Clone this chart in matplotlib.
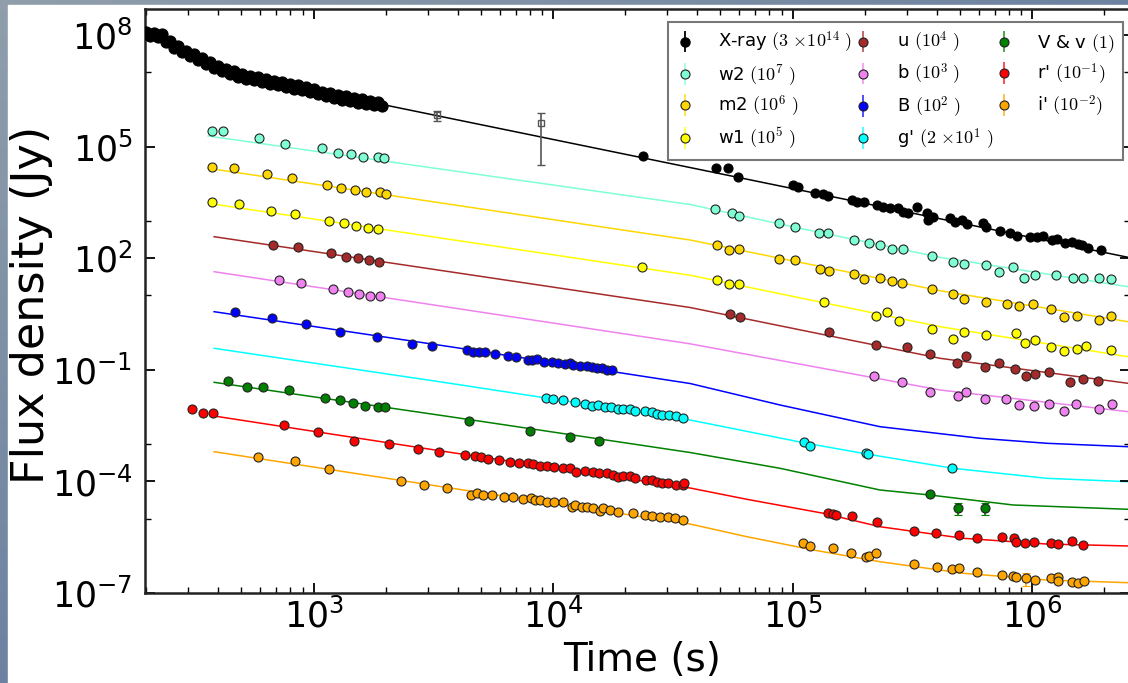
import numpy as np
import matplotlib
matplotlib.use('Agg')
import matplotlib.pyplot as plt
from matplotlib.colors import LinearSegmentedColormap, to_rgba
from matplotlib.patches import Rectangle
from matplotlib.container import ErrorbarContainer
from matplotlib.legend_handler import HandlerErrorbar
from matplotlib.ticker import FixedLocator, FuncFormatter, LogLocator, NullFormatter

plt.rcParams['mathtext.fontset'] = 'cm'

# all values are log10, fluxes already multiplied by the legend factor

# X-ray, dense early light curve then sparse late points
xray_lt = [2.301, 2.317, 2.334, 2.351, 2.368, 2.384, 2.401, 2.418, 2.434, 2.451,
           2.468, 2.484, 2.501, 2.518, 2.534, 2.551, 2.568, 2.585, 2.601, 2.618,
           2.635, 2.651, 2.668, 2.685, 2.701, 2.718, 2.735, 2.751, 2.768, 2.785,
           2.802, 2.818, 2.835, 2.852, 2.868, 2.885, 2.902, 2.918, 2.935, 2.952,
           2.969, 2.985, 3.002, 3.019, 3.035, 3.052, 3.069, 3.085, 3.102, 3.119,
           3.136, 3.152, 3.169, 3.186, 3.202, 3.219, 3.236, 3.252, 3.269, 3.286,
           4.375, 4.681, 4.732, 4.774, 5.003, 5.024, 5.094, 5.126, 5.149, 5.247,
           5.268, 5.299, 5.352, 5.379, 5.407, 5.442, 5.463, 5.484, 5.519, 5.561,
           5.567, 5.588, 5.658, 5.679, 5.707, 5.728, 5.797, 5.808, 5.866, 5.908,
           5.936, 5.992, 6.020, 6.047, 6.082, 6.103, 6.138, 6.166, 6.193, 6.208,
           6.235, 6.288]
xray_lf = [8.075, 7.963, 8.065, 7.949, 8.014, 7.823, 7.847, 7.664, 7.704, 7.535,
           7.581, 7.430, 7.484, 7.323, 7.379, 7.215, 7.274, 7.116, 7.175, 7.019,
           7.086, 6.944, 7.019, 6.877, 6.952, 6.825, 6.911, 6.782, 6.866, 6.734,
           6.817, 6.688, 6.772, 6.643, 6.726, 6.597, 6.686, 6.557, 6.643, 6.514,
           6.602, 6.460, 6.538, 6.401, 6.481, 6.352, 6.438, 6.309, 6.393, 6.264,
           6.350, 6.221, 6.307, 6.180, 6.269, 6.143, 6.231, 6.108, 6.202, 6.081,
           4.747, 4.417, 4.417, 4.191, 3.968, 3.906, 3.761, 3.726, 3.672, 3.565,
           3.519, 3.519, 3.438, 3.385, 3.342, 3.342, 3.250, 3.223, 3.368, 3.207,
           3.027, 3.116, 3.072, 2.981, 3.027, 2.919, 2.954, 2.847, 2.739, 2.685,
           2.597, 2.562, 2.578, 2.597, 2.489, 2.508, 2.401, 2.444, 2.382, 2.355,
           2.266, 2.220]
xray_mt = [3.2985, 6.401]
xray_mf = [6.118, 2.024]
# two open squares with errors (linear, Jy scaled)
sq_lt = [3.514, 3.950]
sq_lf = [5.850, 5.626]
sq_err = [2.2e5, 3.9e5]

w2_lt = [2.575, 2.621, 2.771, 2.882, 3.036, 3.102, 3.155, 3.208, 3.268, 3.294,
         4.676, 4.746, 4.777, 4.944, 5.010, 5.112, 5.150, 5.257, 5.319, 5.365,
         5.415, 5.460, 5.581, 5.671, 5.717, 5.807, 5.864, 5.922, 5.968, 6.013,
         6.100, 6.171, 6.212, 6.281, 6.331]
w2_lf = [5.420, 5.420, 5.239, 5.070, 4.954, 4.836, 4.801, 4.729, 4.712, 4.686,
         3.315, 3.207, 3.143, 2.954, 2.831, 2.686, 2.670, 2.489, 2.401, 2.355,
         2.239, 2.239, 2.059, 1.890, 1.836, 1.817, 1.637, 1.756, 1.460, 1.549,
         1.541, 1.460, 1.460, 1.460, 1.449]
w2_mt = [2.560, 4.572, 5.031, 5.616, 6.401]
w2_mf = [5.285, 3.444, 2.804, 2.024, 1.234]

m2_lt = [2.575, 2.669, 2.805, 2.910, 3.056, 3.116, 3.172, 3.220, 3.278, 3.303,
         4.684, 4.735, 4.778, 4.945, 5.012, 5.115, 5.152, 5.257, 5.299, 5.365,
         5.415, 5.459, 5.581, 5.671, 5.717, 5.807, 5.894, 5.946, 6.003, 6.079,
         6.132, 6.188, 6.281, 6.331]
m2_lf = [4.460, 4.417, 4.256, 4.148, 3.960, 3.895, 3.833, 3.780, 3.772, 3.726,
         2.355, 2.221, 2.239, 1.979, 1.952, 1.710, 1.664, 1.584, 1.433, 1.460,
         1.387, 1.342, 1.164, 1.038, 0.903, 0.815, 0.769, 0.715, 0.769, 0.626,
         0.428, 0.446, 0.339, 0.446]
m2_mt = [2.560, 4.572, 5.616, 6.401]
m2_mf = [4.417, 2.489, 1.126, 0.293]

w1_lt = [2.575, 2.689, 2.824, 2.922, 3.066, 3.127, 3.179, 3.226, 3.268,
         4.373, 4.685, 4.735, 4.778, 5.133, 5.347, 5.393, 5.443, 5.581, 5.671,
         5.717, 5.807, 5.932, 5.971, 6.013, 6.079, 6.132, 6.188, 6.224, 6.331]
w1_lf = [3.503, 3.457, 3.277, 3.180, 3.000, 2.954, 2.874, 2.804, 2.785,
         1.772, 1.422, 1.307, 1.302, 0.831, 0.446, 0.562, 0.320, 0.089, -0.180,
         0.024, -0.072, -0.019, -0.271, -0.199, -0.395, -0.495, -0.433, -0.352, -0.468]
w1_mt = [2.560, 4.572, 5.616, 6.401]
w1_mf = [3.476, 1.543, 0.159, -0.648]

u_lt = [2.832, 2.934, 3.073, 3.134, 3.185, 3.232, 3.274,
        4.739, 4.781, 5.152, 5.349, 5.476, 5.574, 5.688, 5.723, 5.804, 5.864,
        5.929, 5.974, 6.013, 6.071, 6.159, 6.212, 6.274]
u_lf = [2.355, 2.293, 2.132, 2.024, 1.997, 1.952, 1.890,
        0.500, 0.411, 0.008, -0.333, -0.400, -0.583, -0.825, -0.629, -0.917, -0.825,
        -0.986, -1.167, -1.113, -1.067, -1.341, -1.247, -1.314]
u_mt = [2.585, 4.572, 5.616, 6.401]
u_mf = [2.578, 0.675, -0.691, -1.363]

b_lt = [2.854, 2.948, 3.082, 3.142, 3.191, 3.237, 3.278,
        5.342, 5.456, 5.574, 5.692, 5.724, 5.802, 5.891, 5.946, 6.008, 6.070,
        6.134, 6.182, 6.281, 6.333]
b_lf = [1.414, 1.325, 1.172, 1.083, 1.030, 0.984, 0.984,
        -1.159, -1.341, -1.610, -1.704, -1.605, -1.790, -1.790, -1.946, -1.973, -1.927,
        -2.099, -1.919, -2.062, -1.927]
b_mt = [2.585, 4.572, 5.616, 6.401]
b_mf = [1.637, -0.301, -1.543, -2.126]

B_lt = [2.672, 2.828, 2.967, 3.112, 3.265, 3.410, 3.493, 3.640, 3.665, 3.691,
        3.717, 3.758, 3.811, 3.846, 3.897, 3.911, 3.932, 3.964, 3.995, 4.022,
        4.050, 4.071, 4.085, 4.113, 4.141, 4.162, 4.182, 4.203, 4.224, 4.245]
B_lf = [0.562, 0.385, 0.223, 0.024, -0.126, -0.312, -0.360, -0.468, -0.513, -0.513,
        -0.529, -0.575, -0.629, -0.648, -0.736, -0.736, -0.718, -0.782, -0.790, -0.825,
        -0.852, -0.825, -0.871, -0.890, -0.898, -0.917, -0.943, -0.943, -1.005, -1.005]
B_mt = [2.585, 3.570, 4.572, 4.948, 5.365, 5.783, 6.063, 6.401]
B_mf = [0.562, -0.379, -1.368, -1.946, -2.529, -2.841, -2.976, -3.067]

g_lt = [3.970, 4.001, 4.043, 4.092, 4.135, 4.162, 4.189, 4.217, 4.242, 4.273,
        4.294, 4.322, 4.342, 4.384, 4.412, 4.433, 4.454, 4.486, 4.514, 4.544,
        5.049, 5.073, 5.307, 5.317, 5.667]
g_lf = [-1.766, -1.785, -1.812, -1.874, -1.927, -1.973, -1.946, -2.008, -1.992, -2.046,
        -2.062, -2.046, -2.107, -2.107, -2.134, -2.188, -2.215, -2.215, -2.242, -2.304,
        -2.933, -3.040, -3.245, -3.263, -3.648]
g_mt = [2.585, 3.570, 4.572, 5.059, 5.310, 5.671, 6.061, 6.401]
g_mf = [-0.422, -1.363, -2.349, -2.976, -3.263, -3.648, -3.917, -4.008]

V_lt = [2.644, 2.721, 2.790, 2.898, 3.047, 3.111, 3.164, 3.213, 3.271, 3.297,
        3.651, 3.904, 4.071, 4.193, 5.574]
V_lf = [-1.288, -1.454, -1.454, -1.543, -1.750, -1.817, -1.887, -1.960, -2.000, -2.000,
        -2.376, -2.645, -2.814, -2.906, -4.339]
V_err_lt = [5.692, 5.802]
V_err_lf = [-4.707, -4.707]
V_err = [0.7e-5, 0.7e-5]
V_mt = [2.585, 3.570, 4.572, 4.948, 5.365, 5.574, 5.921, 6.401]
V_mf = [-1.336, -2.261, -3.223, -3.648, -4.231, -4.366, -4.634, -4.750]

r_lt = [2.491, 2.540, 2.582, 2.878, 3.020, 3.170, 3.316, 3.436, 3.524, 3.633,
        3.674, 3.698, 3.730, 3.776, 3.820, 3.858, 3.897, 3.918, 3.946, 3.974,
        4.004, 4.043, 4.071, 4.096, 4.134, 4.168, 4.192, 4.224, 4.252, 4.273,
        4.294, 4.322, 4.342, 4.387, 4.412, 4.433, 4.454, 4.481, 4.514, 4.544,
        4.547, 5.150, 5.168, 5.182, 5.250, 5.352, 5.507, 5.600, 5.696, 5.769,
        5.873, 5.926, 5.932, 5.972, 6.010, 6.078, 6.110, 6.166, 6.214]
r_lf = [-2.062, -2.153, -2.153, -2.484, -2.680, -2.919, -3.003, -3.124, -3.204, -3.290,
        -3.317, -3.352, -3.398, -3.425, -3.470, -3.497, -3.513, -3.532, -3.578, -3.586,
        -3.621, -3.632, -3.648, -3.739, -3.712, -3.755, -3.766, -3.782, -3.828, -3.874,
        -3.855, -3.855, -3.900, -3.962, -3.962, -4.008, -4.035, -4.051, -4.097, -4.097,
        -4.035, -4.841, -4.876, -4.903, -4.930, -5.099, -5.325, -5.379, -5.441, -5.513,
        -5.503, -5.529, -5.621, -5.648, -5.637, -5.664, -5.683, -5.594, -5.710]
r_mt = [2.585, 3.570, 4.572, 4.809, 5.129, 5.365, 5.713, 6.061, 6.401]
r_mf = [-2.242, -3.218, -4.177, -4.481, -4.857, -5.218, -5.529, -5.683, -5.736]

i_lt = [2.770, 2.923, 3.066, 3.367, 3.463, 3.556, 3.656, 3.681, 3.709, 3.747,
        3.797, 3.834, 3.873, 3.908, 3.925, 3.946, 3.974, 4.005, 4.043, 4.078,
        4.092, 4.120, 4.141, 4.168, 4.196, 4.210, 4.238, 4.273, 4.335, 4.384,
        4.415, 4.447, 4.479, 4.509, 4.544, 5.045, 5.073, 5.170, 5.244, 5.307,
        5.321, 5.349, 5.507, 5.602, 5.665, 5.696, 5.769, 5.873, 5.922, 5.933,
        6.013, 6.078, 6.110, 6.110, 6.166, 6.193, 6.217]
i_lf = [-3.336, -3.452, -3.667, -3.997, -4.091, -4.177, -4.366, -4.320, -4.366, -4.366,
        -4.411, -4.427, -4.481, -4.454, -4.500, -4.500, -4.546, -4.562, -4.562, -4.680,
        -4.634, -4.696, -4.680, -4.723, -4.788, -4.723, -4.769, -4.831, -4.857, -4.903,
        -4.922, -4.949, -4.965, -4.992, -5.046, -5.664, -5.736, -5.798, -5.917, -6.024,
        -5.997, -5.933, -6.228, -6.293, -6.355, -6.320, -6.427, -6.516, -6.543, -6.562,
        -6.650, -6.605, -6.562, -6.677, -6.712, -6.739, -6.669]
i_err_lt = [5.974]
i_err_lf = [-6.605]
i_err = [0.9e-7]
i_mt = [2.585, 3.570, 4.572, 4.809, 5.087, 5.365, 5.713, 6.061, 6.401]
i_mf = [-3.202, -4.177, -5.145, -5.486, -5.844, -6.159, -6.470, -6.650, -6.723]

y_major_exp = [-7, -4, -1, 2, 5, 8]
y_minor_exp = [-5, -3, 1, 3, 7]

bands = [
    (r'w2 $(10^{7}\ )$', 'aquamarine', w2_lt, w2_lf, w2_mt, w2_mf),
    (r'm2 $(10^{6}\ )$', 'gold', m2_lt, m2_lf, m2_mt, m2_mf),
    (r'w1 $(10^{5}\ )$', 'yellow', w1_lt, w1_lf, w1_mt, w1_mf),
    (r'u $(10^{4}\ )$', 'brown', u_lt, u_lf, u_mt, u_mf),
    (r'b $(10^{3}\ )$', 'violet', b_lt, b_lf, b_mt, b_mf),
    (r'B $(10^{2}\ )$', 'blue', B_lt, B_lf, B_mt, B_mf),
    (r"g' $(2\ {\times}10^{1}\ )$", 'cyan', g_lt, g_lf, g_mt, g_mf),
    (r'V & v $(1)$', 'green', V_lt, V_lf, V_mt, V_mf),
    (r"r' $(10^{-1})$", 'red', r_lt, r_lf, r_mt, r_mf),
    (r"i' $(10^{-2})$", 'orange', i_lt, i_lf, i_mt, i_mf),
]

W, H = 1128, 683
fig = plt.figure(figsize=(W / 100, H / 100), dpi=100)

# slide background: thin blue strips on the left and top
bg = fig.add_axes([0, 0, 1, 1], zorder=-5)
grad = np.add.outer(np.linspace(0, 1, 60), np.linspace(0, 1, 60))
cmap = LinearSegmentedColormap.from_list('slide', ['#909eab', '#4a6796'])
bg.imshow(grad, cmap=cmap, aspect='auto', extent=[0, 1, 0, 1], origin='upper')
bg.add_patch(Rectangle((8 / W, 0), 1, 1 - 5 / H, color='white'))
bg.set_xlim(0, 1)
bg.set_ylim(0, 1)
bg.axis('off')

ax = fig.add_axes([145 / W, 90 / H, 985 / W, 584 / H])
ax.set_xscale('log')
ax.set_yscale('log')

pw = lambda a: 10.0 ** np.asarray(a)
MS = 6.5

# X-ray
ax.plot(pw(xray_mt), pw(xray_mf), color='k', lw=1.1, zorder=1)
ax.plot(pw(xray_lt[:60]), pw(xray_lf[:60]), 'o', ms=8, mfc='k', mec='k', mew=0.8, zorder=3)
ax.plot(pw(xray_lt[60:]), pw(xray_lf[60:]), 'o', ms=MS, mfc='k', mec='k', mew=0.8, zorder=3)
ax.errorbar(pw(sq_lt), pw(sq_lf), yerr=sq_err, fmt='s', ms=5, mfc='none', mec='#555555',
            ecolor='#555555', elinewidth=1.2, capsize=3, zorder=3)

for label, col, lt, lf, mt, mf in bands:
    ax.plot(pw(mt), pw(mf), color=col, lw=1.1, zorder=1)
    ax.plot(pw(lt), pw(lf), 'o', ms=MS, mfc=col, mec='#222222', mew=0.8, zorder=3)

ax.errorbar(pw(V_err_lt), pw(V_err_lf), yerr=V_err, fmt='o', ms=MS, mfc='green', mec='#222222',
            mew=0.8, ecolor='green', elinewidth=1.2, capsize=3, zorder=3)
ax.errorbar(pw(i_err_lt), pw(i_err_lf), yerr=i_err, fmt='o', ms=MS, mfc='orange', mec='#222222',
            mew=0.8, ecolor='orange', elinewidth=1.2, capsize=3, zorder=3)

# legend handles with error bars
handles = []
h = ax.errorbar([], [], yerr=[], fmt='o', ms=MS, mfc='k', mec='k', color='k',
                ecolor='k', capsize=3.5, elinewidth=1.3, label=r'X-ray $(3\ {\times}10^{14}\ )$')
handles.append(h)
for label, col, lt, lf, mt, mf in bands:
    h = ax.errorbar([], [], yerr=[], fmt='o', ms=MS, mfc=col, mec='#222222', mew=0.8, color=col,
                    ecolor=to_rgba(col, 0.75), capsize=3.5, elinewidth=1.3, label=label)
    handles.append(h)

leg = ax.legend(handles=handles, ncol=3, loc='upper right',
                bbox_to_anchor=(1123 / W, 1 - 22 / H), bbox_transform=fig.transFigure,
                fontsize=13, fancybox=False, framealpha=1, edgecolor='#777777',
                handlelength=1.0, handletextpad=1.35, columnspacing=0.1,
                borderpad=0.45, labelspacing=0.38, borderaxespad=0, numpoints=1,
                handler_map={ErrorbarContainer: HandlerErrorbar(yerr_size=0.6)})
leg.get_frame().set_linewidth(1.5)
leg.set_zorder(10)

ax.set_xlim(10 ** 2.2964, 10 ** 6.4092)
ax.set_ylim(1e-7, 10 ** 8.699)

ax.yaxis.set_major_locator(FixedLocator(pw(y_major_exp)))
ax.yaxis.set_minor_locator(FixedLocator(pw(y_minor_exp)))
ax.yaxis.set_minor_formatter(NullFormatter())
ax.xaxis.set_major_locator(LogLocator(base=10, numticks=12))
ax.xaxis.set_minor_locator(LogLocator(base=10, subs=np.arange(2, 10), numticks=12))
ax.xaxis.set_minor_formatter(NullFormatter())
fmt = FuncFormatter(lambda v, p: r'$\mathdefault{10^{%d}}$' % int(round(np.log10(v))))
ax.xaxis.set_major_formatter(fmt)
ax.yaxis.set_major_formatter(fmt)

ax.tick_params(which='both', direction='in', top=True, right=True, labelsize=25)
ax.tick_params(which='major', length=7, width=1.3)
ax.tick_params(which='minor', length=4, width=1.0)
ax.tick_params(axis='y', pad=9)
ax.tick_params(axis='x', pad=4)
for s in ax.spines.values():
    s.set_linewidth(1.8)
    s.set_color('#222222')

ax.set_xlabel('Time (s)', fontsize=28, va='top')
ax.xaxis.set_label_coords(0.505, -0.083)
ax.set_ylabel('Flux density (Jy)', fontsize=32, va='center')
ax.yaxis.set_label_coords(-0.115, 0.493)

fig.savefig('out.png', dpi=100)
